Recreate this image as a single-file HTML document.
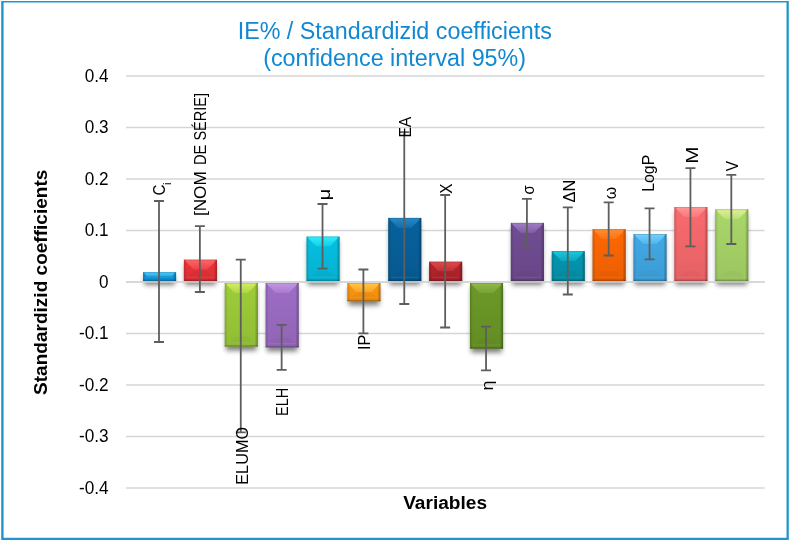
<!DOCTYPE html>
<html lang="en"><head><meta charset="utf-8"><title>IE% / Standardizid coefficients</title>
<style>html,body{margin:0;padding:0;background:#fff}svg{display:block;will-change:transform}text{font-family:"Liberation Sans",sans-serif}</style></head><body>
<svg width="790" height="542" viewBox="0 0 790 542">
<defs><filter id="sh" x="-30%" y="-30%" width="160%" height="160%"><feGaussianBlur stdDeviation="2.5"/></filter><linearGradient id="hm" x1="0" y1="0" x2="0" y2="1"><stop offset="0" stop-color="#fff" stop-opacity="0.9"/><stop offset="1" stop-color="#fff" stop-opacity="0.3"/></linearGradient><mask id="m" maskContentUnits="objectBoundingBox"><rect width="1" height="1" fill="url(#hm)"/></mask><linearGradient id="vg" x1="0" y1="0" x2="0" y2="1"><stop offset="0" stop-color="#000" stop-opacity="0"/><stop offset="1" stop-color="#000" stop-opacity="0.08"/></linearGradient><linearGradient id="lg" x1="0" y1="0" x2="1" y2="0"><stop offset="0" stop-color="#000" stop-opacity="0.16"/><stop offset="1" stop-color="#000" stop-opacity="0"/></linearGradient><linearGradient id="rg" x1="0" y1="0" x2="1" y2="0"><stop offset="0" stop-color="#000" stop-opacity="0"/><stop offset="1" stop-color="#000" stop-opacity="0.30"/></linearGradient></defs>
<rect width="790" height="542" fill="#fff"/>
<path d="M1.2 1.1H788.8V540H1.2Z M3.6 2.6V537.7H786.5V2.6Z" fill="#2096ce" fill-rule="evenodd"/>
<text x="394.8" y="38.6" text-anchor="middle" font-size="23.3" fill="#1088d2">IE% / Standardizid coefficients</text>
<text x="394.6" y="65.5" text-anchor="middle" font-size="23.3" fill="#1088d2">(confidence interval 95%)</text>
<line x1="126.0" x2="764.6" y1="76.00" y2="76.00" stroke="#d6d6d6" stroke-width="1.4"/>
<text x="84.80" y="81.90" font-size="18.0" fill="#000" textLength="23.8" lengthAdjust="spacingAndGlyphs">0.4</text>
<line x1="126.0" x2="764.6" y1="127.50" y2="127.50" stroke="#d6d6d6" stroke-width="1.4"/>
<text x="84.80" y="133.40" font-size="18.0" fill="#000" textLength="23.8" lengthAdjust="spacingAndGlyphs">0.3</text>
<line x1="126.0" x2="764.6" y1="179.00" y2="179.00" stroke="#d6d6d6" stroke-width="1.4"/>
<text x="84.80" y="184.90" font-size="18.0" fill="#000" textLength="23.8" lengthAdjust="spacingAndGlyphs">0.2</text>
<line x1="126.0" x2="764.6" y1="230.50" y2="230.50" stroke="#d6d6d6" stroke-width="1.4"/>
<text x="84.80" y="236.40" font-size="18.0" fill="#000" textLength="23.8" lengthAdjust="spacingAndGlyphs">0.1</text>
<line x1="126.0" x2="764.6" y1="282.00" y2="282.00" stroke="#d6d6d6" stroke-width="1.4"/>
<text x="99.10" y="287.90" font-size="18.0" fill="#000" textLength="9.5" lengthAdjust="spacingAndGlyphs">0</text>
<line x1="126.0" x2="764.6" y1="333.50" y2="333.50" stroke="#d6d6d6" stroke-width="1.4"/>
<text x="79.00" y="339.40" font-size="18.0" fill="#000" textLength="29.6" lengthAdjust="spacingAndGlyphs">-0.1</text>
<line x1="126.0" x2="764.6" y1="385.00" y2="385.00" stroke="#d6d6d6" stroke-width="1.4"/>
<text x="79.00" y="390.90" font-size="18.0" fill="#000" textLength="29.6" lengthAdjust="spacingAndGlyphs">-0.2</text>
<line x1="126.0" x2="764.6" y1="436.50" y2="436.50" stroke="#d6d6d6" stroke-width="1.4"/>
<text x="79.00" y="442.40" font-size="18.0" fill="#000" textLength="29.6" lengthAdjust="spacingAndGlyphs">-0.3</text>
<line x1="126.0" x2="764.6" y1="488.00" y2="488.00" stroke="#d6d6d6" stroke-width="1.4"/>
<text x="79.00" y="493.90" font-size="18.0" fill="#000" textLength="29.6" lengthAdjust="spacingAndGlyphs">-0.4</text>
<text transform="translate(47.3 282.3) rotate(-90)" text-anchor="middle" font-size="19.05" font-weight="bold" fill="#000">Standardizid coefficients</text>
<text x="445.1" y="508.9" text-anchor="middle" font-size="19.1" font-weight="bold" fill="#000">Variables</text>
<g filter="url(#sh)" opacity="0.5">
<rect x="144.20" y="276.20" width="30.70" height="8.80" fill="#000"/>
<rect x="185.07" y="263.70" width="30.70" height="21.30" fill="#000"/>
<rect x="225.94" y="287.00" width="30.70" height="63.60" fill="#000"/>
<rect x="266.81" y="287.00" width="30.70" height="64.40" fill="#000"/>
<rect x="307.68" y="240.60" width="30.70" height="44.40" fill="#000"/>
<rect x="348.55" y="287.00" width="30.70" height="18.30" fill="#000"/>
<rect x="389.42" y="221.90" width="30.70" height="63.10" fill="#000"/>
<rect x="430.29" y="265.70" width="30.70" height="19.30" fill="#000"/>
<rect x="471.16" y="287.00" width="30.70" height="65.70" fill="#000"/>
<rect x="512.03" y="226.90" width="30.70" height="58.10" fill="#000"/>
<rect x="552.90" y="255.20" width="30.70" height="29.80" fill="#000"/>
<rect x="593.77" y="233.25" width="30.70" height="51.75" fill="#000"/>
<rect x="634.64" y="238.10" width="30.70" height="46.90" fill="#000"/>
<rect x="675.51" y="211.10" width="30.70" height="73.90" fill="#000"/>
<rect x="716.38" y="213.40" width="30.70" height="71.60" fill="#000"/>
</g>
<g>
<rect x="143.00" y="272.20" width="33.10" height="8.80" fill="#1299e0"/>
<rect x="143.00" y="272.20" width="33.10" height="8.80" fill="url(#vg)"/>
<polygon points="143.00,272.20 176.10,272.20 171.70,276.60 147.40,276.60" fill="#56d2ff" mask="url(#m)"/>
<polygon points="143.00,281.00 176.10,281.00 171.70,276.60 147.40,276.60" fill="#000" opacity="0.025"/>
<rect x="146.00" y="276.80" width="27.10" height="1" fill="#fff" opacity="0.10"/>
<rect x="143.00" y="272.20" width="3" height="8.80" fill="url(#lg)"/>
<rect x="172.90" y="272.20" width="3.2" height="8.80" fill="url(#rg)"/>
<rect x="143.00" y="279.60" width="33.10" height="1.4" fill="#000" opacity="0.2"/>
<rect x="143.00" y="272.20" width="33.10" height="0.9" fill="#000" opacity="0.13"/>
</g>
<g>
<rect x="183.87" y="259.70" width="33.10" height="21.30" fill="#ec3339"/>
<rect x="183.87" y="259.70" width="33.10" height="21.30" fill="url(#vg)"/>
<polygon points="183.87,259.70 216.97,259.70 206.97,269.70 193.87,269.70" fill="#ff6c6c" mask="url(#m)"/>
<polygon points="183.87,281.00 216.97,281.00 206.97,271.00 193.87,271.00" fill="#000" opacity="0.025"/>
<rect x="186.87" y="276.80" width="27.10" height="1" fill="#fff" opacity="0.10"/>
<rect x="183.87" y="259.70" width="3" height="21.30" fill="url(#lg)"/>
<rect x="213.77" y="259.70" width="3.2" height="21.30" fill="url(#rg)"/>
<rect x="183.87" y="279.60" width="33.10" height="1.4" fill="#000" opacity="0.2"/>
<rect x="183.87" y="259.70" width="33.10" height="0.9" fill="#000" opacity="0.13"/>
</g>
<g>
<rect x="224.74" y="283.00" width="33.10" height="63.60" fill="#9dcd39"/>
<rect x="224.74" y="283.00" width="33.10" height="63.60" fill="url(#vg)"/>
<polygon points="224.74,283.00 257.84,283.00 247.84,293.00 234.74,293.00" fill="#daf264" mask="url(#m)"/>
<polygon points="224.74,346.60 257.84,346.60 247.84,336.60 234.74,336.60" fill="#000" opacity="0.025"/>
<rect x="227.74" y="342.40" width="27.10" height="1" fill="#fff" opacity="0.10"/>
<rect x="224.74" y="283.00" width="3" height="63.60" fill="url(#lg)"/>
<rect x="254.64" y="283.00" width="3.2" height="63.60" fill="url(#rg)"/>
<rect x="224.74" y="345.20" width="33.10" height="1.4" fill="#000" opacity="0.2"/>
<rect x="224.74" y="283.00" width="33.10" height="0.9" fill="#000" opacity="0.13"/>
</g>
<g>
<rect x="265.61" y="283.00" width="33.10" height="64.40" fill="#9d6dc5"/>
<rect x="265.61" y="283.00" width="33.10" height="64.40" fill="url(#vg)"/>
<polygon points="265.61,283.00 298.71,283.00 288.71,293.00 275.61,293.00" fill="#c69ce8" mask="url(#m)"/>
<polygon points="265.61,347.40 298.71,347.40 288.71,337.40 275.61,337.40" fill="#000" opacity="0.025"/>
<rect x="268.61" y="343.20" width="27.10" height="1" fill="#fff" opacity="0.10"/>
<rect x="265.61" y="283.00" width="3" height="64.40" fill="url(#lg)"/>
<rect x="295.51" y="283.00" width="3.2" height="64.40" fill="url(#rg)"/>
<rect x="265.61" y="346.00" width="33.10" height="1.4" fill="#000" opacity="0.2"/>
<rect x="265.61" y="283.00" width="33.10" height="0.9" fill="#000" opacity="0.13"/>
</g>
<g>
<rect x="306.48" y="236.60" width="33.10" height="44.40" fill="#05c0e1"/>
<rect x="306.48" y="236.60" width="33.10" height="44.40" fill="url(#vg)"/>
<polygon points="306.48,236.60 339.58,236.60 329.58,246.60 316.48,246.60" fill="#34f4ff" mask="url(#m)"/>
<polygon points="306.48,281.00 339.58,281.00 329.58,271.00 316.48,271.00" fill="#000" opacity="0.025"/>
<rect x="309.48" y="276.80" width="27.10" height="1" fill="#fff" opacity="0.10"/>
<rect x="306.48" y="236.60" width="3" height="44.40" fill="url(#lg)"/>
<rect x="336.38" y="236.60" width="3.2" height="44.40" fill="url(#rg)"/>
<rect x="306.48" y="279.60" width="33.10" height="1.4" fill="#000" opacity="0.2"/>
<rect x="306.48" y="236.60" width="33.10" height="0.9" fill="#000" opacity="0.13"/>
</g>
<g>
<rect x="347.35" y="283.00" width="33.10" height="18.30" fill="#ff9812"/>
<rect x="347.35" y="283.00" width="33.10" height="18.30" fill="url(#vg)"/>
<polygon points="347.35,283.00 380.45,283.00 371.30,292.15 356.50,292.15" fill="#ffcc4a" mask="url(#m)"/>
<polygon points="347.35,301.30 380.45,301.30 371.30,292.15 356.50,292.15" fill="#000" opacity="0.025"/>
<rect x="350.35" y="297.10" width="27.10" height="1" fill="#fff" opacity="0.10"/>
<rect x="347.35" y="283.00" width="3" height="18.30" fill="url(#lg)"/>
<rect x="377.25" y="283.00" width="3.2" height="18.30" fill="url(#rg)"/>
<rect x="347.35" y="299.90" width="33.10" height="1.4" fill="#000" opacity="0.2"/>
<rect x="347.35" y="283.00" width="33.10" height="0.9" fill="#000" opacity="0.13"/>
</g>
<g>
<rect x="388.22" y="217.90" width="33.10" height="63.10" fill="#07619c"/>
<rect x="388.22" y="217.90" width="33.10" height="63.10" fill="url(#vg)"/>
<polygon points="388.22,217.90 421.32,217.90 411.32,227.90 398.22,227.90" fill="#2a8ecc" mask="url(#m)"/>
<polygon points="388.22,281.00 421.32,281.00 411.32,271.00 398.22,271.00" fill="#000" opacity="0.025"/>
<rect x="391.22" y="276.80" width="27.10" height="1" fill="#fff" opacity="0.10"/>
<rect x="388.22" y="217.90" width="3" height="63.10" fill="url(#lg)"/>
<rect x="418.12" y="217.90" width="3.2" height="63.10" fill="url(#rg)"/>
<rect x="388.22" y="279.60" width="33.10" height="1.4" fill="#000" opacity="0.2"/>
<rect x="388.22" y="217.90" width="33.10" height="0.9" fill="#000" opacity="0.13"/>
</g>
<g>
<rect x="429.09" y="261.70" width="33.10" height="19.30" fill="#b5252b"/>
<rect x="429.09" y="261.70" width="33.10" height="19.30" fill="url(#vg)"/>
<polygon points="429.09,261.70 462.19,261.70 452.54,271.35 438.74,271.35" fill="#e44e4e" mask="url(#m)"/>
<polygon points="429.09,281.00 462.19,281.00 452.54,271.35 438.74,271.35" fill="#000" opacity="0.025"/>
<rect x="432.09" y="276.80" width="27.10" height="1" fill="#fff" opacity="0.10"/>
<rect x="429.09" y="261.70" width="3" height="19.30" fill="url(#lg)"/>
<rect x="458.99" y="261.70" width="3.2" height="19.30" fill="url(#rg)"/>
<rect x="429.09" y="279.60" width="33.10" height="1.4" fill="#000" opacity="0.2"/>
<rect x="429.09" y="261.70" width="33.10" height="0.9" fill="#000" opacity="0.13"/>
</g>
<g>
<rect x="469.96" y="283.00" width="33.10" height="65.70" fill="#6b9927"/>
<rect x="469.96" y="283.00" width="33.10" height="65.70" fill="url(#vg)"/>
<polygon points="469.96,283.00 503.06,283.00 493.06,293.00 479.96,293.00" fill="#96be4e" mask="url(#m)"/>
<polygon points="469.96,348.70 503.06,348.70 493.06,338.70 479.96,338.70" fill="#000" opacity="0.025"/>
<rect x="472.96" y="344.50" width="27.10" height="1" fill="#fff" opacity="0.10"/>
<rect x="469.96" y="283.00" width="3" height="65.70" fill="url(#lg)"/>
<rect x="499.86" y="283.00" width="3.2" height="65.70" fill="url(#rg)"/>
<rect x="469.96" y="347.30" width="33.10" height="1.4" fill="#000" opacity="0.2"/>
<rect x="469.96" y="283.00" width="33.10" height="0.9" fill="#000" opacity="0.13"/>
</g>
<g>
<rect x="510.83" y="222.90" width="33.10" height="58.10" fill="#714d93"/>
<rect x="510.83" y="222.90" width="33.10" height="58.10" fill="url(#vg)"/>
<polygon points="510.83,222.90 543.93,222.90 533.93,232.90 520.83,232.90" fill="#a684cc" mask="url(#m)"/>
<polygon points="510.83,281.00 543.93,281.00 533.93,271.00 520.83,271.00" fill="#000" opacity="0.025"/>
<rect x="513.83" y="276.80" width="27.10" height="1" fill="#fff" opacity="0.10"/>
<rect x="510.83" y="222.90" width="3" height="58.10" fill="url(#lg)"/>
<rect x="540.73" y="222.90" width="3.2" height="58.10" fill="url(#rg)"/>
<rect x="510.83" y="279.60" width="33.10" height="1.4" fill="#000" opacity="0.2"/>
<rect x="510.83" y="222.90" width="33.10" height="0.9" fill="#000" opacity="0.13"/>
</g>
<g>
<rect x="551.70" y="251.20" width="33.10" height="29.80" fill="#0596b0"/>
<rect x="551.70" y="251.20" width="33.10" height="29.80" fill="url(#vg)"/>
<polygon points="551.70,251.20 584.80,251.20 574.80,261.20 561.70,261.20" fill="#1ccee6" mask="url(#m)"/>
<polygon points="551.70,281.00 584.80,281.00 574.80,271.00 561.70,271.00" fill="#000" opacity="0.025"/>
<rect x="554.70" y="276.80" width="27.10" height="1" fill="#fff" opacity="0.10"/>
<rect x="551.70" y="251.20" width="3" height="29.80" fill="url(#lg)"/>
<rect x="581.60" y="251.20" width="3.2" height="29.80" fill="url(#rg)"/>
<rect x="551.70" y="279.60" width="33.10" height="1.4" fill="#000" opacity="0.2"/>
<rect x="551.70" y="251.20" width="33.10" height="0.9" fill="#000" opacity="0.13"/>
</g>
<g>
<rect x="592.57" y="229.25" width="33.10" height="51.75" fill="#ff6702"/>
<rect x="592.57" y="229.25" width="33.10" height="51.75" fill="url(#vg)"/>
<polygon points="592.57,229.25 625.67,229.25 615.67,239.25 602.57,239.25" fill="#ff9236" mask="url(#m)"/>
<polygon points="592.57,281.00 625.67,281.00 615.67,271.00 602.57,271.00" fill="#000" opacity="0.025"/>
<rect x="595.57" y="276.80" width="27.10" height="1" fill="#fff" opacity="0.10"/>
<rect x="592.57" y="229.25" width="3" height="51.75" fill="url(#lg)"/>
<rect x="622.47" y="229.25" width="3.2" height="51.75" fill="url(#rg)"/>
<rect x="592.57" y="279.60" width="33.10" height="1.4" fill="#000" opacity="0.2"/>
<rect x="592.57" y="229.25" width="33.10" height="0.9" fill="#000" opacity="0.13"/>
</g>
<g>
<rect x="633.44" y="234.10" width="33.10" height="46.90" fill="#41a9e6"/>
<rect x="633.44" y="234.10" width="33.10" height="46.90" fill="url(#vg)"/>
<polygon points="633.44,234.10 666.54,234.10 656.54,244.10 643.44,244.10" fill="#78d4ff" mask="url(#m)"/>
<polygon points="633.44,281.00 666.54,281.00 656.54,271.00 643.44,271.00" fill="#000" opacity="0.025"/>
<rect x="636.44" y="276.80" width="27.10" height="1" fill="#fff" opacity="0.10"/>
<rect x="633.44" y="234.10" width="3" height="46.90" fill="url(#lg)"/>
<rect x="663.34" y="234.10" width="3.2" height="46.90" fill="url(#rg)"/>
<rect x="633.44" y="279.60" width="33.10" height="1.4" fill="#000" opacity="0.2"/>
<rect x="633.44" y="234.10" width="33.10" height="0.9" fill="#000" opacity="0.13"/>
</g>
<g>
<rect x="674.31" y="207.10" width="33.10" height="73.90" fill="#f96a6d"/>
<rect x="674.31" y="207.10" width="33.10" height="73.90" fill="url(#vg)"/>
<polygon points="674.31,207.10 707.41,207.10 697.41,217.10 684.31,217.10" fill="#ff9c9c" mask="url(#m)"/>
<polygon points="674.31,281.00 707.41,281.00 697.41,271.00 684.31,271.00" fill="#000" opacity="0.025"/>
<rect x="677.31" y="276.80" width="27.10" height="1" fill="#fff" opacity="0.10"/>
<rect x="674.31" y="207.10" width="3" height="73.90" fill="url(#lg)"/>
<rect x="704.21" y="207.10" width="3.2" height="73.90" fill="url(#rg)"/>
<rect x="674.31" y="279.60" width="33.10" height="1.4" fill="#000" opacity="0.2"/>
<rect x="674.31" y="207.10" width="33.10" height="0.9" fill="#000" opacity="0.13"/>
</g>
<g>
<rect x="715.18" y="209.40" width="33.10" height="71.60" fill="#a9d769"/>
<rect x="715.18" y="209.40" width="33.10" height="71.60" fill="url(#vg)"/>
<polygon points="715.18,209.40 748.28,209.40 738.28,219.40 725.18,219.40" fill="#e4f498" mask="url(#m)"/>
<polygon points="715.18,281.00 748.28,281.00 738.28,271.00 725.18,271.00" fill="#000" opacity="0.025"/>
<rect x="718.18" y="276.80" width="27.10" height="1" fill="#fff" opacity="0.10"/>
<rect x="715.18" y="209.40" width="3" height="71.60" fill="url(#lg)"/>
<rect x="745.08" y="209.40" width="3.2" height="71.60" fill="url(#rg)"/>
<rect x="715.18" y="279.60" width="33.10" height="1.4" fill="#000" opacity="0.2"/>
<rect x="715.18" y="209.40" width="33.10" height="0.9" fill="#000" opacity="0.13"/>
</g>
<line x1="126.0" x2="764.6" y1="282.0" y2="282.0" stroke="#d6d6d6" stroke-width="1.4"/>
<path d="M159.00 201.00V342.00M154.00 201.00H164.00M154.00 342.00H164.00" stroke="#5e5e5e" stroke-width="1.8" fill="none"/>
<path d="M199.88 226.20V292.00M194.88 226.20H204.88M194.88 292.00H204.88" stroke="#5e5e5e" stroke-width="1.8" fill="none"/>
<path d="M240.76 259.60V432.30M235.76 259.60H245.76M235.76 432.30H245.76" stroke="#5e5e5e" stroke-width="1.8" fill="none"/>
<path d="M281.64 324.90V369.80M276.64 324.90H286.64M276.64 369.80H286.64" stroke="#5e5e5e" stroke-width="1.8" fill="none"/>
<path d="M322.52 204.00V268.70M317.52 204.00H327.52M317.52 268.70H327.52" stroke="#5e5e5e" stroke-width="1.8" fill="none"/>
<path d="M363.40 269.50V333.30M358.40 269.50H368.40M358.40 333.30H368.40" stroke="#5e5e5e" stroke-width="1.8" fill="none"/>
<path d="M404.28 132.20V304.00M399.28 132.20H409.28M399.28 304.00H409.28" stroke="#5e5e5e" stroke-width="1.8" fill="none"/>
<path d="M445.16 195.00V327.50M440.16 195.00H450.16M440.16 327.50H450.16" stroke="#5e5e5e" stroke-width="1.8" fill="none"/>
<path d="M486.04 326.70V370.40M481.04 326.70H491.04M481.04 370.40H491.04" stroke="#5e5e5e" stroke-width="1.8" fill="none"/>
<path d="M526.92 198.90V245.90M521.92 198.90H531.92M521.92 245.90H531.92" stroke="#5e5e5e" stroke-width="1.8" fill="none"/>
<path d="M567.80 207.30V294.50M562.80 207.30H572.80M562.80 294.50H572.80" stroke="#5e5e5e" stroke-width="1.8" fill="none"/>
<path d="M608.68 202.40V255.50M603.68 202.40H613.68M603.68 255.50H613.68" stroke="#5e5e5e" stroke-width="1.8" fill="none"/>
<path d="M649.56 208.30V259.40M644.56 208.30H654.56M644.56 259.40H654.56" stroke="#5e5e5e" stroke-width="1.8" fill="none"/>
<path d="M690.44 168.10V246.30M685.44 168.10H695.44M685.44 246.30H695.44" stroke="#5e5e5e" stroke-width="1.8" fill="none"/>
<path d="M731.32 174.90V244.00M726.32 174.90H736.32M726.32 244.00H736.32" stroke="#5e5e5e" stroke-width="1.8" fill="none"/>
<text transform="translate(165.1 195.5) rotate(-90)" font-size="16.9" fill="#000"><tspan textLength="11.0" lengthAdjust="spacingAndGlyphs">C</tspan><tspan font-size="11.4" dy="5.5" dx="-0.6">i</tspan></text>
<text transform="translate(206.3 215.2) rotate(-90)" font-size="16.9" fill="#000"><tspan x="-0.90" textLength="44.90" lengthAdjust="spacingAndGlyphs">[NOM</tspan> <tspan x="50.10" textLength="20.40" lengthAdjust="spacingAndGlyphs">DE</tspan> <tspan x="74.60" textLength="47.60" lengthAdjust="spacingAndGlyphs">SÉRIE]</tspan></text>
<text transform="translate(247.65 484.72) rotate(-90)" font-size="16.9" fill="#000" textLength="57.77" lengthAdjust="spacingAndGlyphs">ELUMO</text>
<text transform="translate(288.35 415.95) rotate(-90)" font-size="16.9" fill="#000" textLength="28.34" lengthAdjust="spacingAndGlyphs">ELH</text>
<text transform="translate(329.8 200.15) rotate(-90)" font-size="16.9" fill="#000" textLength="11.42" lengthAdjust="spacingAndGlyphs">μ</text>
<text transform="translate(370.45 350.01) rotate(-90)" font-size="16.9" fill="#000" textLength="15.3" lengthAdjust="spacingAndGlyphs">IP</text>
<text transform="translate(410.95 137.61) rotate(-90)" font-size="16.9" fill="#000" textLength="20.95" lengthAdjust="spacingAndGlyphs">EA</text>
<text transform="translate(451.81 193.71) rotate(-90)" font-size="16.9" fill="#000" textLength="10.25" lengthAdjust="spacingAndGlyphs">X</text>
<text transform="translate(493.14 390.42) rotate(-90)" font-size="16.9" fill="#000" textLength="9.87" lengthAdjust="spacingAndGlyphs">η</text>
<text transform="translate(534.07 194.62) rotate(-90)" font-size="16.9" fill="#000" textLength="9.28" lengthAdjust="spacingAndGlyphs">σ</text>
<text transform="translate(574.95 202.42) rotate(-90)" font-size="16.9" fill="#000" textLength="22.67" lengthAdjust="spacingAndGlyphs">ΔN</text>
<text transform="translate(616.07 199.21) rotate(-90)" font-size="16.9" fill="#000" textLength="12.43" lengthAdjust="spacingAndGlyphs">ω</text>
<text transform="translate(654.25 191.81) rotate(-90)" font-size="16.9" fill="#000" textLength="37.04" lengthAdjust="spacingAndGlyphs">LogP</text>
<text transform="translate(697.77 163.66) rotate(-90)" font-size="16.9" fill="#000" textLength="17.17" lengthAdjust="spacingAndGlyphs">M</text>
<text transform="translate(738.13 171.24) rotate(-90)" font-size="16.9" fill="#000" textLength="10.35" lengthAdjust="spacingAndGlyphs">V</text>
</svg></body></html>
